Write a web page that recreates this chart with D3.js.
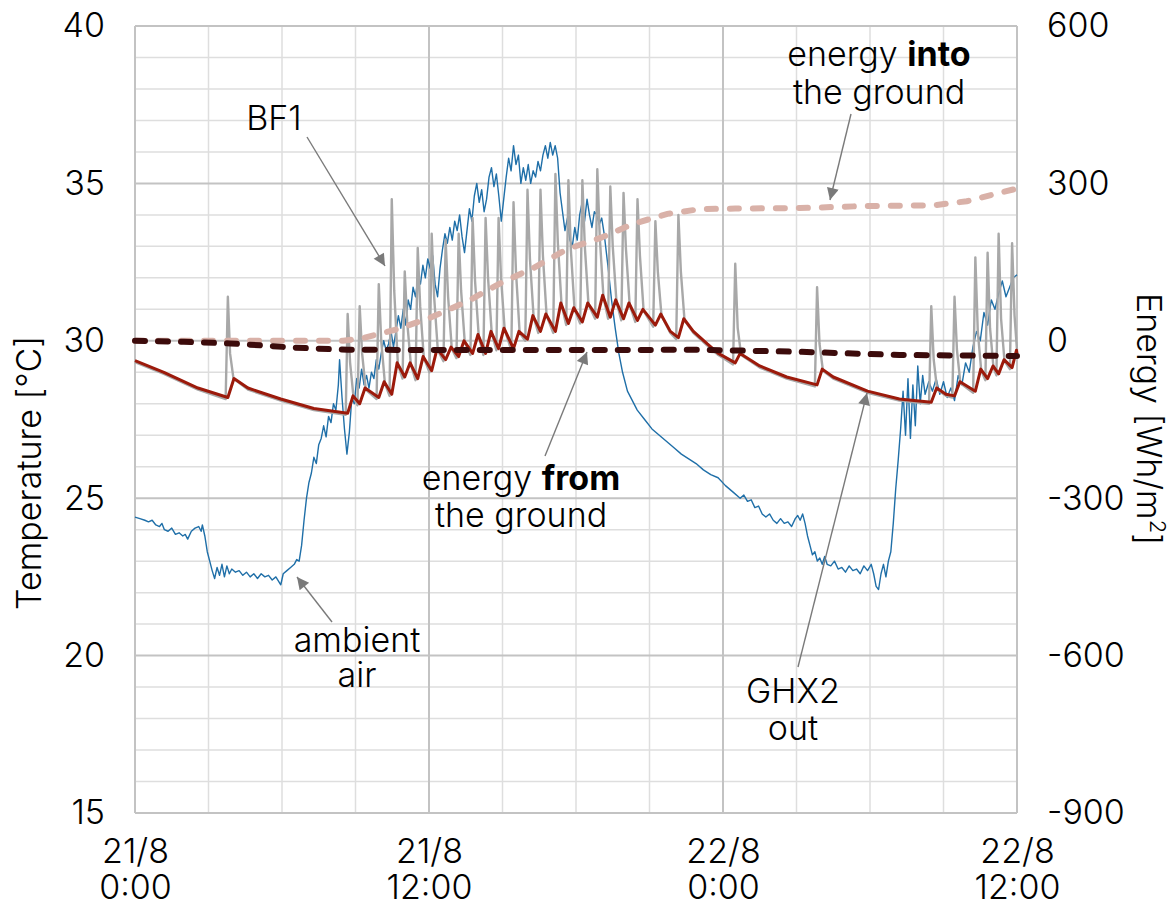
<!DOCTYPE html>
<html>
<head>
<meta charset="utf-8">
<script src="https://cdn.jsdelivr.net/npm/d3@7"></script>
<style>
  html, body { margin: 0; padding: 0; background: #fff; }
  svg { display: block; }
  text { font-family: "Inter", "Liberation Sans", sans-serif; font-weight: 300; fill: #000; }
</style>
</head>
<body>
<svg id="chart" width="1176" height="907"></svg>
<script>
// ---------------- data (hours since 21/8 0:00) ----------------
const tempTicks = [15, 20, 25, 30, 35, 40];
const energyTicks = [-900, -600, -300, 0, 300, 600];
const timeTicks = [0, 12, 24, 36];
const timeTickLabels = [["21/8", "0:00"], ["21/8", "12:00"], ["22/8", "0:00"], ["22/8", "12:00"]];

const ambientAir = [
[0,24.4],[0.2,24.35],[0.4,24.3],[0.55,24.25],[0.7,24.3],[0.85,24.15],[1.0,24.1],[1.1,24.2],[1.2,24.0],[1.35,23.95],
[1.5,24.05],[1.65,23.85],[1.8,23.9],[1.95,23.8],[2.05,23.85],[2.15,23.7],[2.3,23.95],[2.45,24.05],[2.6,24.1],[2.7,23.95],
[2.75,24.15],[2.85,23.8],[2.95,23.3],[3.05,23.0],[3.15,22.7],[3.25,22.45],[3.35,22.8],[3.45,22.55],[3.55,22.9],[3.65,22.5],
[3.75,22.85],[3.85,22.6],[3.95,22.75],[4.1,22.65],[4.25,22.7],[4.4,22.55],[4.55,22.65],[4.7,22.5],[4.85,22.6],[5.0,22.45],
[5.15,22.6],[5.3,22.5],[5.45,22.55],[5.6,22.4],[5.75,22.5],[5.95,22.25],[6.05,22.6],[6.2,22.7],[6.35,22.8],[6.5,22.9],
[6.6,23.05],[6.7,23.0],[6.8,23.5],[6.9,24.3],[7.0,25.0],[7.1,25.5],[7.2,25.8],[7.3,26.3],[7.4,26.1],[7.5,26.7],
[7.6,26.9],[7.7,27.3],[7.8,26.95],[7.9,27.6],[8.0,27.4],[8.1,28.0],[8.2,27.8],[8.3,28.6],[8.35,29.4],[8.45,28.2],
[8.55,27.2],[8.65,26.4],[8.75,27.1],[8.85,28.2],[8.95,28.0],[9.05,28.8],[9.15,28.5],[9.25,29.1],[9.35,28.6],[9.45,28.9],
[9.55,28.5],[9.65,29.0],[9.75,28.8],[9.85,29.4],[9.95,29.1],[10.05,29.6],[10.15,30.0],[10.25,29.7],[10.35,29.9],[10.45,30.3],
[10.55,29.8],[10.65,30.3],[10.75,30.8],[10.85,30.4],[10.95,31.0],[11.05,30.5],[11.15,31.3],[11.25,31.0],[11.35,31.7],[11.45,31.4],
[11.55,32.0],[11.65,31.8],[11.75,32.4],[11.85,32.0],[11.95,32.6],[12.05,32.3],[12.15,32.7],[12.25,31.8],[12.35,31.4],[12.45,32.3],
[12.55,32.9],[12.65,33.4],[12.75,33.1],[12.85,33.6],[12.95,33.2],[13.05,33.8],[13.15,33.5],[13.25,34.0],[13.35,33.3],[13.45,32.8],
[13.55,33.5],[13.65,34.2],[13.75,33.8],[13.85,34.6],[13.95,35.0],[14.05,34.4],[14.15,34.8],[14.25,34.1],[14.35,34.5],[14.45,35.2],
[14.55,35.5],[14.65,34.9],[14.75,35.3],[14.85,34.6],[14.95,33.8],[15.05,34.5],[15.15,35.2],[15.25,35.8],[15.35,35.4],[15.45,36.2],
[15.55,35.6],[15.65,35.9],[15.75,35.0],[15.85,35.5],[15.95,35.1],[16.05,35.6],[16.15,35.0],[16.25,35.4],[16.35,35.2],[16.45,35.7],
[16.55,35.4],[16.65,35.9],[16.75,36.2],[16.85,35.8],[16.95,36.3],[17.05,35.9],[17.15,36.2],[17.25,35.8],[17.35,34.7],[17.45,34.1],
[17.55,33.5],[17.65,33.9],[17.75,33.2],[17.85,33.0],[17.95,33.6],[18.05,33.2],[18.15,34.0],[18.25,34.4],[18.35,33.8],[18.45,34.5],
[18.55,34.0],[18.65,33.6],[18.75,34.1],[18.85,34.0],[18.95,33.7],[19.05,33.9],[19.15,33.4],[19.3,32.4],[19.45,31.3],[19.6,30.4],
[19.75,29.6],[19.9,29.0],[20.1,28.4],[20.3,28.1],[20.5,27.8],[20.8,27.5],[21.1,27.2],[21.4,27.0],[21.7,26.8],[22.0,26.6],
[22.3,26.4],[22.6,26.25],[22.9,26.1],[23.2,25.9],[23.5,25.75],[23.8,25.65],[24.1,25.4],[24.4,25.2],[24.7,25.0],[24.85,25.1],
[25.0,24.9],[25.15,24.95],[25.3,24.7],[25.45,24.75],[25.6,24.5],[25.75,24.4],[25.9,24.5],[26.05,24.3],[26.2,24.2],[26.35,24.35],
[26.5,24.2],[26.65,24.25],[26.8,24.1],[26.95,24.35],[27.05,24.45],[27.15,24.3],[27.25,24.5],[27.35,24.2],[27.45,23.8],[27.55,23.5],
[27.65,23.2],[27.75,23.3],[27.85,23.0],[27.95,23.1],[28.05,22.9],[28.15,23.15],[28.25,22.9],[28.4,22.85],[28.55,23.0],[28.7,22.75],
[28.85,22.8],[29.0,22.65],[29.15,22.85],[29.3,22.7],[29.45,22.75],[29.6,22.6],[29.75,22.85],[29.9,22.7],[30.05,22.9],[30.15,22.6],
[30.25,22.2],[30.35,22.1],[30.45,22.6],[30.55,22.9],[30.65,22.5],[30.75,23.0],[30.85,23.3],[30.95,24.2],[31.05,25.3],[31.15,26.2],
[31.25,27.2],[31.35,28.4],[31.45,27.0],[31.55,28.8],[31.65,26.9],[31.75,28.6],[31.85,27.3],[31.95,29.2],[32.05,28.0],[32.15,28.9],
[32.25,28.3],[32.4,28.7],[32.55,28.4],[32.7,28.8],[32.85,28.3],[33.0,28.7],[33.15,28.2],[33.3,28.5],[33.45,28.1],[33.6,28.9],
[33.75,28.6],[33.9,29.3],[34.05,29.0],[34.2,29.8],[34.35,30.3],[34.5,30.0],[34.65,30.9],[34.8,30.5],[34.95,31.3],[35.1,31.0],
[35.25,31.5],[35.4,31.9],[35.55,31.4],[35.7,31.7],[35.85,32.0],[36.0,32.1]
];

const bf1 = [
[0,29.32],[1.18,28.95],[2.57,28.45],
[3.70,28.15],[3.79,31.4],[3.88,29.6],[4.02,28.8],[4.61,28.45],[5.95,28.1],[7.3,27.8],
[8.6,27.65],[8.68,30.85],[8.78,29.3],[8.92,28.2],
[9.08,27.95],[9.17,31.1],[9.27,29.6],[9.42,28.45],
[9.86,28.15],[9.95,31.8],[10.05,30.0],[10.2,28.65],
[10.39,28.25],[10.48,34.5],[10.58,31.6],[10.73,29.25],
[10.92,28.8],[11.01,32.2],[11.11,30.6],[11.26,29.25],
[11.45,28.75],[11.54,32.95],[11.64,31.1],[11.79,29.45],
[12.02,29.0],[12.11,33.4],[12.21,31.4],[12.36,29.7],
[12.59,29.35],[12.68,33.2],[12.78,31.4],[12.93,29.75],
[13.12,29.45],[13.21,33.4],[13.31,31.6],[13.46,29.95],
[13.69,29.55],[13.78,33.9],[13.88,31.9],[14.03,30.15],
[14.22,29.55],[14.31,33.9],[14.41,32.0],[14.56,30.25],
[14.75,29.7],[14.84,33.9],[14.94,32.0],[15.09,30.35],
[15.36,29.7],[15.45,34.4],[15.55,32.2],[15.7,30.25],
[15.93,30.0],[16.02,34.8],[16.12,32.6],[16.27,30.75],
[16.46,30.25],[16.55,34.8],[16.65,32.7],[16.8,30.8],
[17.07,30.25],[17.16,35.3],[17.26,33.1],[17.41,31.15],
[17.6,30.5],[17.69,35.1],[17.79,32.9],[17.94,31.0],
[18.17,30.55],[18.26,35.1],[18.36,33.0],[18.51,31.15],
[18.78,30.7],[18.87,35.45],[18.97,33.3],[19.12,31.4],
[19.31,30.7],[19.4,34.9],[19.5,33.0],[19.65,31.25],
[19.85,30.65],[19.94,34.7],[20.04,32.9],[20.19,31.15],
[20.42,30.6],[20.51,34.5],[20.61,32.7],[20.76,30.95],
[21.15,30.45],[21.24,33.8],[21.34,32.2],[21.49,30.8],[21.85,30.25],
[22.09,30.05],[22.18,34.0],[22.28,32.2],[22.43,30.65],[22.79,30.25],[23.36,29.85],[23.81,29.55],
[24.41,29.25],[24.5,32.45],[24.6,30.4],[24.74,29.55],[25.5,29.15],[26.6,28.8],
[27.75,28.55],[27.84,31.7],[27.94,29.9],[28.08,29.05],[28.5,28.8],[29.9,28.35],[31.2,28.1],
[32.41,28.0],[32.5,31.1],[32.6,29.4],[32.74,28.45],[33.1,28.25],
[33.36,28.2],[33.45,31.4],[33.55,29.7],[33.69,28.65],
[34.21,28.35],[34.3,32.65],[34.4,30.3],[34.54,29.05],
[34.71,28.75],[34.8,32.8],[34.9,30.4],[35.04,29.15],
[35.16,28.9],[35.25,33.4],[35.35,30.7],[35.49,29.35],
[35.71,29.1],[35.8,33.1],[35.9,30.8],[36,29.7]
];

const ghx2Out = [
[0,29.37],[1.18,29.0],[2.57,28.5],[3.79,28.2],[4.04,28.8],[4.61,28.5],[5.95,28.15],[7.3,27.85],[8.68,27.7],
[8.9,28.25],[9.17,28.0],[9.39,28.5],[9.95,28.2],[10.17,28.7],[10.48,28.3],[10.7,29.3],[11.01,28.85],[11.23,29.3],
[11.54,28.8],[11.76,29.5],[12.11,29.05],[12.33,29.75],[12.68,29.4],[12.9,29.8],[13.21,29.5],[13.43,30.0],[13.78,29.6],
[14.0,30.2],[14.31,29.6],[14.53,30.3],[14.84,29.75],[15.06,30.4],[15.45,29.75],[15.67,30.3],[16.02,30.05],[16.24,30.8],
[16.55,30.3],[16.77,30.85],[17.16,30.3],[17.38,31.2],[17.69,30.55],[17.91,31.05],[18.26,30.6],[18.48,31.2],[18.87,30.75],
[19.09,31.45],[19.4,30.75],[19.62,31.3],[19.94,30.7],[20.16,31.2],[20.51,30.65],[20.73,31.0],[21.24,30.5],[21.46,30.85],
[21.85,30.3],[22.18,30.1],[22.4,30.7],[22.79,30.3],[23.36,29.9],[23.81,29.6],[24.5,29.3],[24.7,29.6],[25.5,29.2],
[26.6,28.85],[27.84,28.6],[28.05,29.1],[28.5,28.85],[29.9,28.4],[31.2,28.15],[32.5,28.05],[32.72,28.5],[33.1,28.3],
[33.45,28.25],[33.67,28.7],[34.3,28.4],[34.52,29.1],[34.8,28.8],[35.02,29.2],[35.25,28.95],[35.47,29.4],[35.8,29.15],
[35.98,29.7],[36,29.6]
];

const energyInto = [
[0,0],[4,0],[7,0],[8.5,0],[9.3,5],[10.7,22],[12.05,44],[13.6,76],[14.93,110],[16.27,139],[17.65,175],[19.0,196],
[20.34,223],[21.73,242],[23.07,251],[24.5,252],[27.15,253],[29.88,257],[32.57,258],[33.95,266],[35.3,282],[35.9,289],[36,291]
];

const energyFrom = [
[0,0],[2.0,-2],[3.9,-5],[6.5,-13],[8.0,-16],[8.68,-17],[12,-17.5],[20,-17.5],[23.07,-17],[27.15,-21],[31.2,-27],[36,-29]
];

// ---------------- chart ----------------
const svg = d3.select("#chart");
const X0 = 135, X1 = 1017, Y0 = 813, Y1 = 26;
const x = d3.scaleLinear().domain([0, 36]).range([X0, X1]);
const yT = d3.scaleLinear().domain([15, 40]).range([Y0, Y1]);
const yE = d3.scaleLinear().domain([-900, 600]).range([Y0, Y1]);

const FS = 34;

// gridlines
const grid = svg.append("g");
const hMinor = d3.range(15, 41, 1).filter(v => v % 5 !== 0);
const vMinor = d3.range(0, 37, 3).filter(v => v % 12 !== 0);
grid.selectAll("line.hmin").data(hMinor).join("line")
  .attr("x1", X0).attr("x2", X1).attr("y1", d => yT(d)).attr("y2", d => yT(d))
  .attr("stroke", "#dedede").attr("stroke-width", 1.5);
grid.selectAll("line.vmin").data(vMinor).join("line")
  .attr("y1", Y0).attr("y2", Y1).attr("x1", d => x(d)).attr("x2", d => x(d))
  .attr("stroke", "#dedede").attr("stroke-width", 1.5);
grid.selectAll("line.hmaj").data(tempTicks).join("line")
  .attr("x1", X0).attr("x2", X1).attr("y1", d => yT(d)).attr("y2", d => yT(d))
  .attr("stroke", "#c3c3c3").attr("stroke-width", 2);
grid.selectAll("line.vmaj").data(timeTicks).join("line")
  .attr("y1", Y0).attr("y2", Y1).attr("x1", d => x(d)).attr("x2", d => x(d))
  .attr("stroke", "#c3c3c3").attr("stroke-width", 2);

// axes
const leftAxis = svg.append("g").attr("transform", `translate(${X0},0)`)
  .call(d3.axisLeft(yT).tickValues(tempTicks).tickSize(0).tickPadding(30).tickFormat(d => String(d)));
const rightAxis = svg.append("g").attr("transform", `translate(${X1},0)`)
  .call(d3.axisRight(yE).tickValues(energyTicks).tickSize(0).tickPadding(30).tickFormat(d => String(d)));
const bottomAxis = svg.append("g").attr("transform", `translate(0,${Y0})`)
  .call(d3.axisBottom(x).tickValues(timeTicks).tickSize(0).tickPadding(0).tickFormat(() => ""));
[leftAxis, rightAxis, bottomAxis].forEach(a => {
  a.select(".domain").remove();
  a.selectAll("text").attr("font-size", FS).attr("font-family", null).style("fill", "#000");
});
bottomAxis.selectAll(".tick").each(function(d, i) {
  const t = d3.select(this).select("text").attr("y", 0).attr("dy", null);
  t.text(null);
  t.append("tspan").attr("x", 0).attr("y", 50).text(timeTickLabels[i][0]);
  t.append("tspan").attr("x", 0).attr("y", 86).text(timeTickLabels[i][1]);
});

// axis titles
svg.append("text").attr("transform", "translate(41,473) rotate(-90)")
  .attr("text-anchor", "middle").attr("font-size", FS).text("Temperature [°C]");
const rt = svg.append("text").attr("transform", "translate(1137,293) rotate(90)")
  .attr("text-anchor", "start").attr("font-size", FS);
rt.append("tspan").text("Energy [Wh/m");
rt.append("tspan").attr("font-size", 22).attr("dy", -13).text("2");
rt.append("tspan").attr("dy", 13).text("]");

// series
const lineT = d3.line().x(d => x(d[0])).y(d => yT(d[1]));
const lineE = d3.line().x(d => x(d[0])).y(d => yE(d[1]));
const series = svg.append("g").attr("fill", "none");
series.append("path").datum(ambientAir).attr("d", lineT)
  .attr("stroke", "#1f6fa8").attr("stroke-width", 1.4).attr("stroke-linejoin", "round");
series.append("path").datum(bf1).attr("d", lineT)
  .attr("stroke", "#a8a8a8").attr("stroke-width", 2.4).attr("stroke-linejoin", "round");
series.append("path").datum(ghx2Out).attr("d", lineT)
  .attr("stroke", "#9c1a0b").attr("stroke-width", 3).attr("stroke-linejoin", "round");
series.append("path").datum(energyInto).attr("d", lineE)
  .attr("stroke", "#d9b1a8").attr("stroke-width", 6).attr("stroke-linecap", "round")
  .attr("stroke-dasharray", "9,14");
series.append("path").datum(energyFrom).attr("d", lineE)
  .attr("stroke", "#3c0b0b").attr("stroke-width", 6).attr("stroke-linecap", "round")
  .attr("stroke-dasharray", "10,13");

// annotations
const defs = svg.append("defs");
defs.append("marker").attr("id", "ah").attr("viewBox", "0 0 10 10")
  .attr("refX", 10).attr("refY", 5).attr("markerWidth", 14).attr("markerHeight", 12)
  .attr("markerUnits", "userSpaceOnUse").attr("orient", "auto")
  .append("path").attr("d", "M0,0 L10,5 L0,10 Z").attr("fill", "#7a7a7a");

const arrows = [
  [307, 137, 385, 266],
  [851, 114, 830, 200],
  [545, 456, 587, 352],
  [332, 622, 297, 577],
  [798, 667, 867, 393]
];
svg.append("g").selectAll("line").data(arrows).join("line")
  .attr("x1", d => d[0]).attr("y1", d => d[1]).attr("x2", d => d[2]).attr("y2", d => d[3])
  .attr("stroke", "#7a7a7a").attr("stroke-width", 1.4).attr("marker-end", "url(#ah)");

// each annotation is one text element; lines are tspans
function label(cx, lines) {
  const t = svg.append("text").attr("text-anchor", "middle").attr("font-size", FS);
  lines.forEach(([y, parts]) => {
    parts.forEach((p, j) => {
      const s = t.append("tspan").text(p[0]);
      if (j === 0) s.attr("x", cx).attr("y", y);
      if (p[1]) s.attr("font-weight", 700);
    });
  });
}
label(274, [[130, [["BF1"]]]]);
label(879, [[66, [["energy "], ["into", true]]], [104, [["the ground"]]]]);
label(521, [[490, [["energy "], ["from", true]]], [527, [["the ground"]]]]);
label(357, [[652, [["ambient"]]], [687, [["air"]]]]);
label(793, [[703, [["GHX2"]]], [740, [["out"]]]]);
</script>
</body>
</html>
